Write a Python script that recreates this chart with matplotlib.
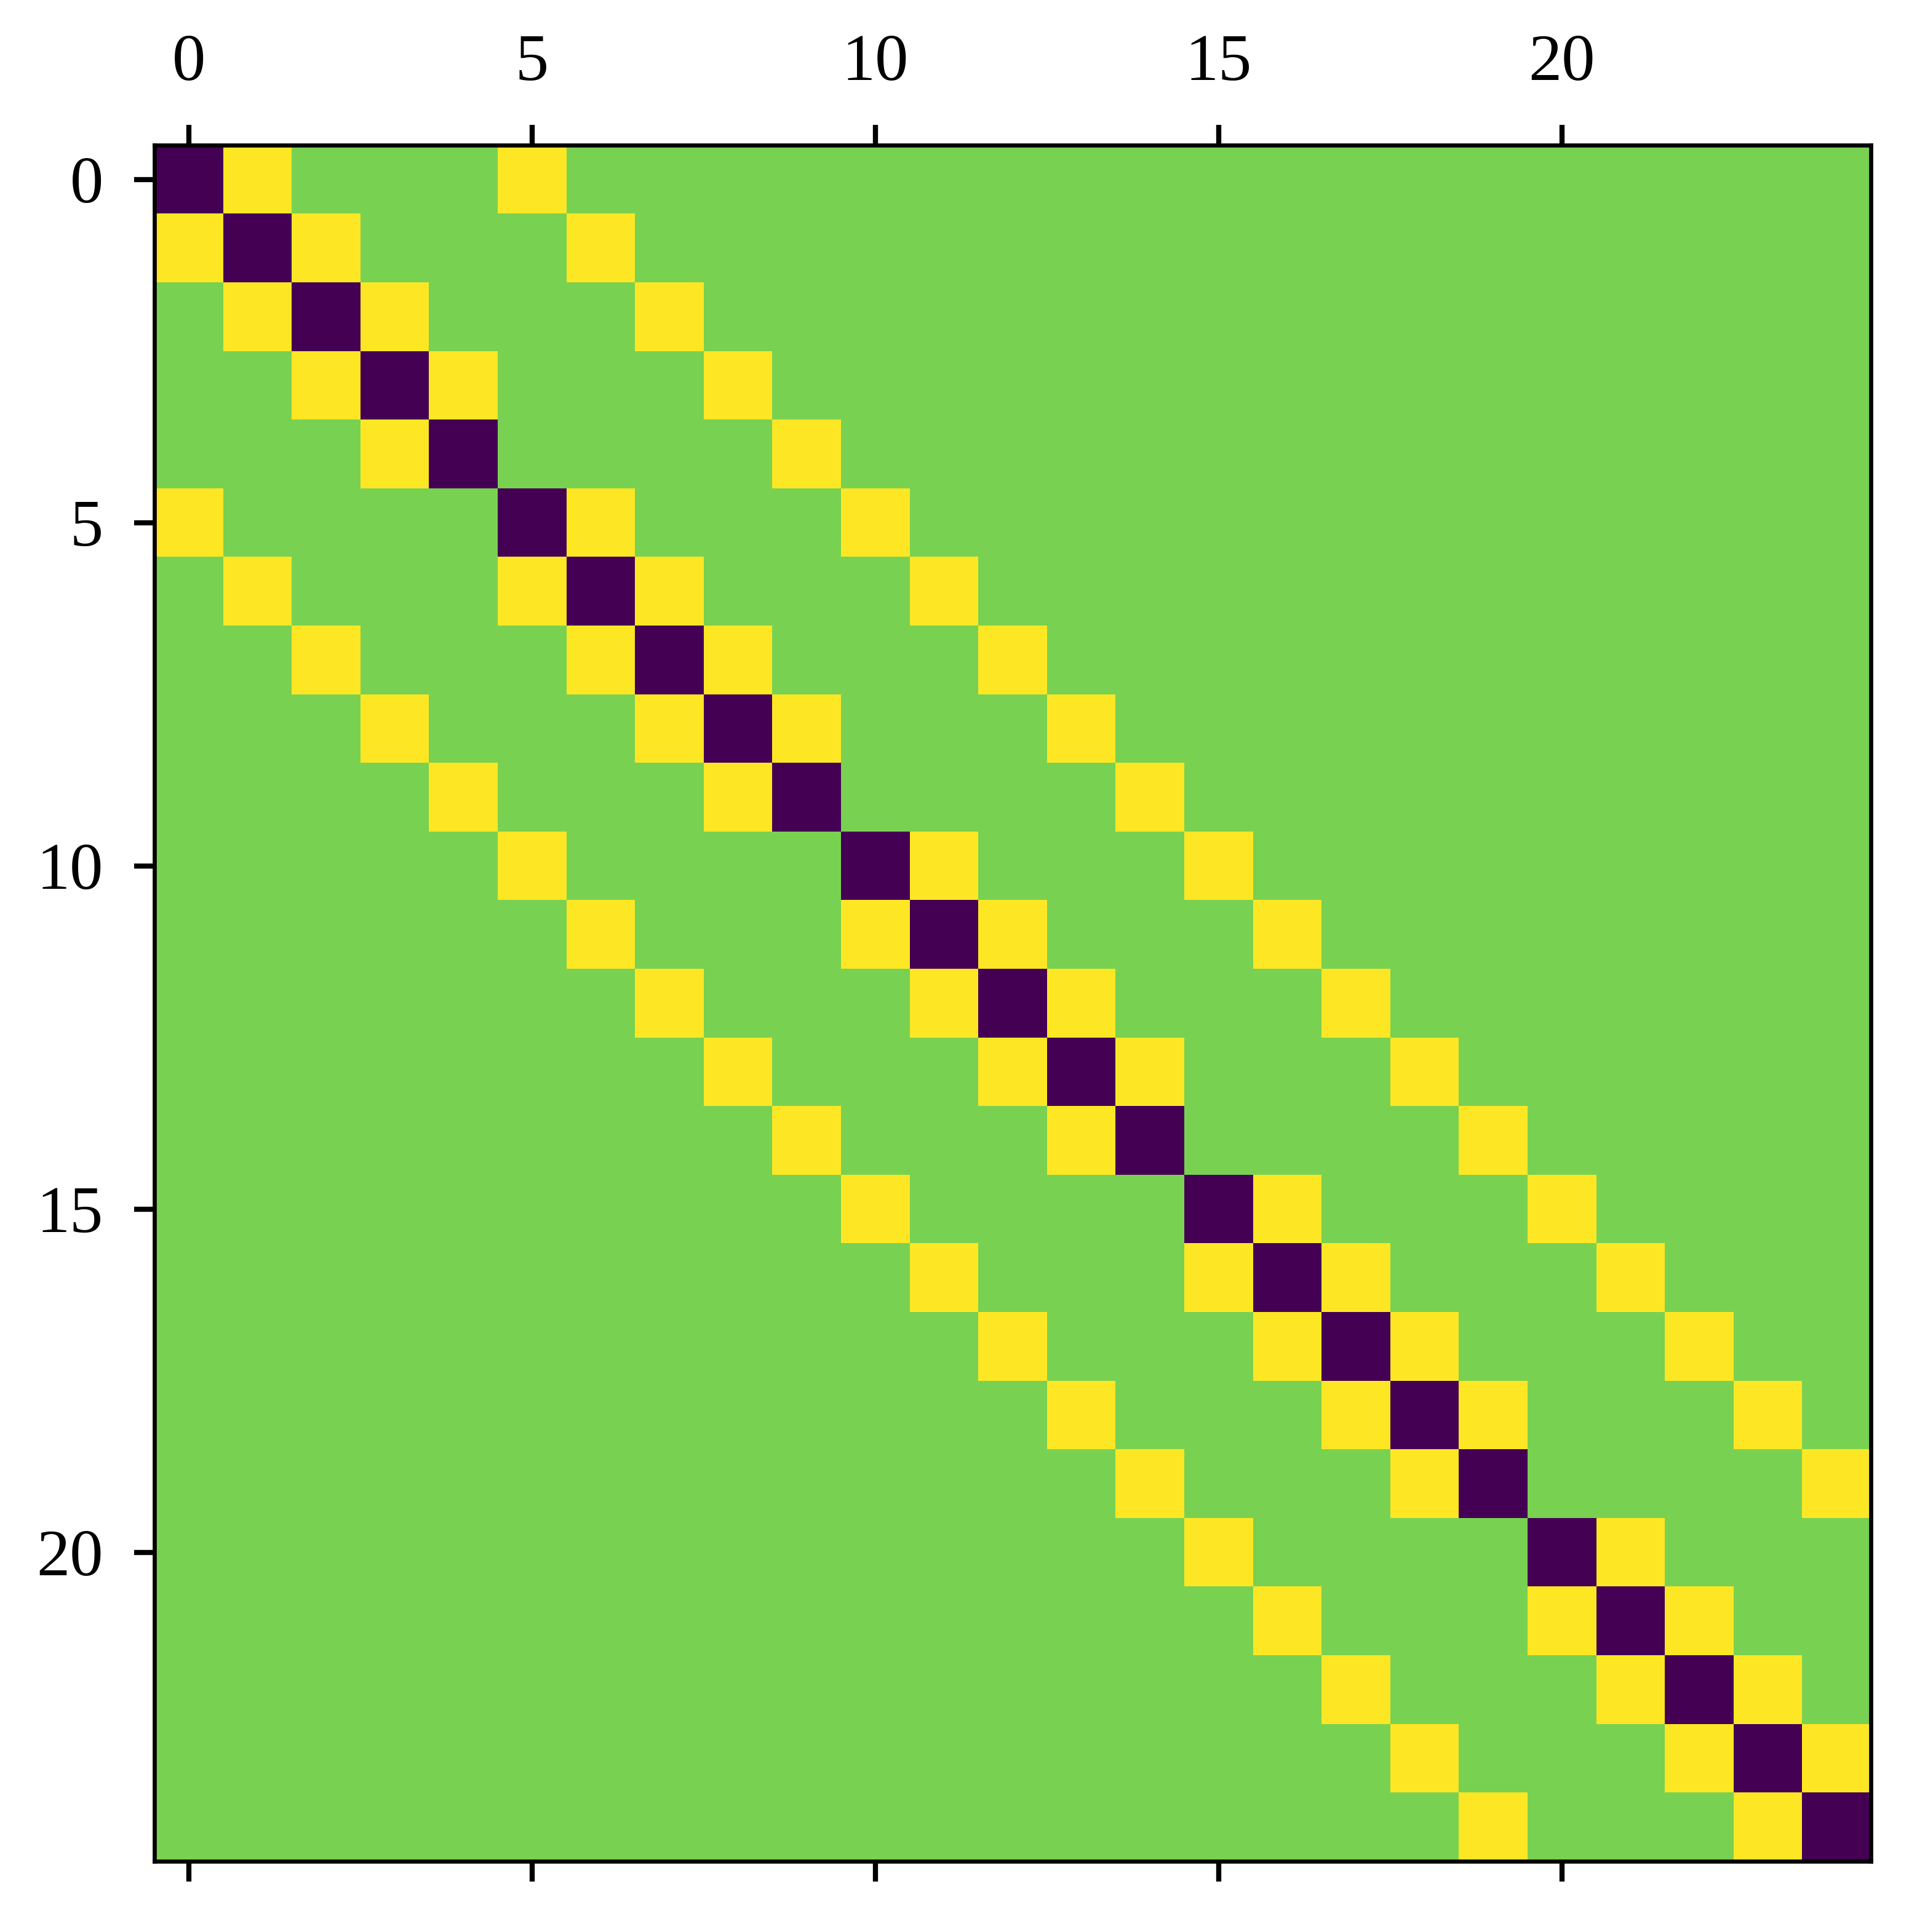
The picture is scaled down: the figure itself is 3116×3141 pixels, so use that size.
import numpy as np
import matplotlib
matplotlib.use('Agg')
import matplotlib.pyplot as plt

plt.rcParams['font.family'] = ['Liberation Serif', 'DejaVu Serif']
plt.rcParams['font.size'] = 13
plt.rcParams['axes.linewidth'] = 0.8
plt.rcParams['xtick.major.width'] = 1.0
plt.rcParams['ytick.major.width'] = 1.0
plt.rcParams['xtick.major.size'] = 4
plt.rcParams['ytick.major.size'] = 4
plt.rcParams['xtick.major.pad'] = 6
plt.rcParams['ytick.major.pad'] = 6

# 5x5 grid, 2D finite difference operator
grid_n = 5
diag_value = -4
neighbor_value = 1

size = grid_n * grid_n
A = np.zeros((size, size))
for i in range(size):
    A[i, i] = diag_value
    if (i + 1) % grid_n != 0:
        A[i, i + 1] = neighbor_value
        A[i + 1, i] = neighbor_value
    if i + grid_n < size:
        A[i, i + grid_n] = neighbor_value
        A[i + grid_n, i] = neighbor_value

fig = plt.figure(figsize=(3116 / 600, 3141 / 600), dpi=600)
ax = fig.add_axes([250 / 3116, 1 - 3026 / 3141, 2792 / 3116, 2790 / 3141])
ax.matshow(A, cmap='viridis')
ax.set_xticks([0, 5, 10, 15, 20])
ax.set_yticks([0, 5, 10, 15, 20])

fig.savefig('out.png', dpi=600)
